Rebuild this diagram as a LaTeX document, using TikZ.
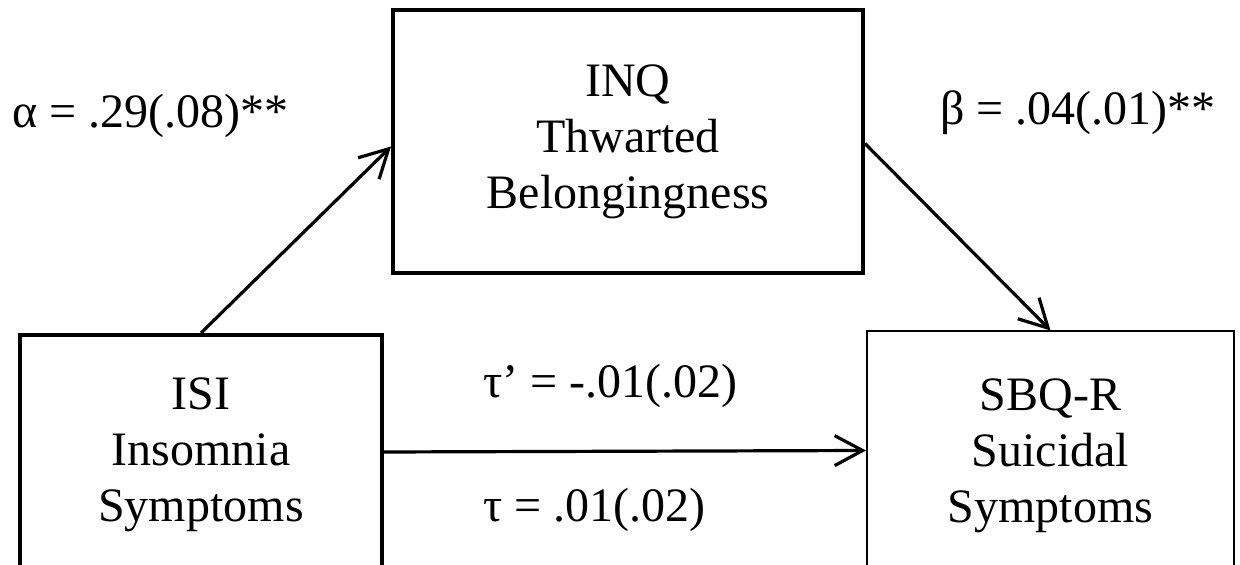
\documentclass[tikz,border=0pt]{standalone}
\usepackage{fontspec}
\setmainfont{Liberation Serif}
\usepackage{tikz}
\usetikzlibrary{arrows.meta,positioning}

\begin{document}
\begin{tikzpicture}[
  x=0.5pt, y=0.5pt,
  var/.style={draw, align=center, inner sep=0pt, line width=2pt,
              font=\fontsize{24}{28}\selectfont},
  coef/.style={inner sep=0pt, font=\fontsize{24}{28}\selectfont},
  ar/.style={-{Straight Barb[length=14pt, width=15pt]}, line width=1.6pt}]
\useasboundingbox (0,0) rectangle (1240,-565);
\clip (0,0) rectangle (1240,-565);
\node[var, minimum width=235pt, minimum height=131.5pt] (inq) at (628,-141.5)
  {INQ\\Thwarted\\Belongingness};
\node[var, minimum width=181pt, minimum height=120pt] (isi) at (201,-455)
  {ISI\\Insomnia\\Symptoms};
\node[var, line width=1pt, minimum width=183.5pt, minimum height=124pt] (sbq) at (1050.5,-455.5)
  {SBQ-R\\Suicidal\\Symptoms};
\node[coef, anchor=base west] (a) at (12,-128) {α = .29(.08)**};
\node[coef, anchor=base west] (b) at (940,-125) {β = .04(.01)**};
\node[coef, anchor=base west] (cp) at (483,-398) {τ’ = -.01(.02)};
\node[coef, anchor=base west] (c) at (483,-522) {τ = .01(.02)};
\draw[ar] (isi.north) -- ([yshift=-2.5pt]inq.west);
\draw[ar] ([yshift=-1pt]inq.east) -- (sbq.north);
\draw[ar] ([yshift=1.5pt]isi.east) -- ([yshift=2.5pt]sbq.west);
\end{tikzpicture}
\end{document}
